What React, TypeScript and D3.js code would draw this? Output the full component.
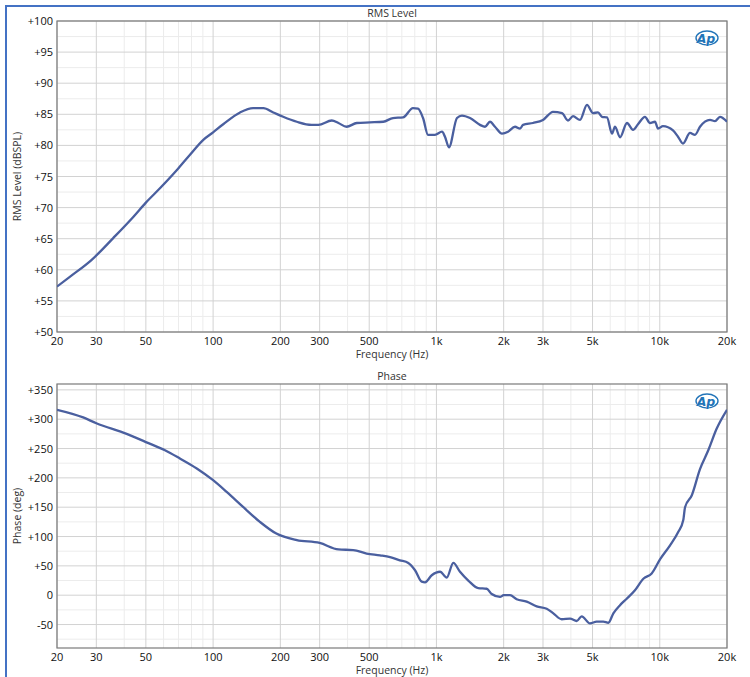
import React from "react";
import * as d3 from "d3";

// RMS level (dBSPL) vs frequency
const levelFreq = [20, 22.9, 28.6, 35.7, 43.9, 50, 57.8, 68.7, 78.8, 90.4, 100, 111, 132, 151, 168, 186, 206, 237, 276, 296, 340, 364, 396, 440, 504, 578, 639, 709, 785, 827, 871, 917, 985, 1059, 1092, 1138, 1236, 1301, 1414, 1567, 1650, 1737, 1829, 1966, 2092, 2248, 2368, 2442, 2706, 3000, 3326, 3650, 3882, 4088, 4394, 4722, 5024, 5290, 5512, 5804, 6112, 6304, 6638, 7132, 7590, 7990, 8586, 9040, 9520, 9820, 10338, 11462, 12068, 12706, 13658, 14378, 15140, 16786, 17674, 18604, 20000];
const levelDb = [57.3, 58.9, 61.6, 65.1, 68.5, 70.8, 73.1, 76.0, 78.5, 80.9, 82.1, 83.4, 85.3, 86.0, 86.0, 85.3, 84.6, 83.8, 83.3, 83.3, 84.0, 83.6, 83.0, 83.6, 83.7, 83.8, 84.4, 84.5, 86.0, 85.9, 84.4, 81.7, 81.7, 82.2, 81.4, 79.7, 84.4, 84.8, 84.4, 83.3, 83.0, 83.8, 83.0, 81.9, 82.2, 83.0, 82.7, 83.3, 83.6, 84.1, 85.4, 85.2, 84.0, 84.7, 84.1, 86.5, 85.2, 85.3, 84.6, 84.5, 81.9, 83.0, 81.3, 83.6, 82.5, 83.4, 84.6, 83.6, 83.8, 82.7, 83.1, 82.4, 81.4, 80.3, 82.0, 81.7, 83.0, 84.1, 83.9, 84.6, 83.8];

// Phase (deg) vs frequency
const phaseFreq = [20, 26.2, 30, 41, 50, 60.9, 71, 84.5, 100, 115, 136.6, 162, 192, 237, 300, 364, 424, 487, 559, 620, 686, 748, 802, 859, 889, 953, 1038, 1112, 1190, 1275, 1389, 1539, 1679, 1768, 1926, 2000, 2135, 2287, 2535, 2812, 3117, 3338, 3639, 3964, 4247, 4470, 4870, 5218, 5585, 5884, 6196, 6638, 7113, 7744, 8442, 9201, 10025, 11118, 12110, 12744, 12977, 13900, 15140, 16490, 17990, 20000];
const phaseDeg = [316, 303, 293, 275, 261, 247, 233, 216, 196, 176, 150, 125, 105, 94, 89, 78, 77, 71, 68, 65, 59.5, 55, 42.5, 23, 22, 34, 40, 30, 55, 40, 25, 12, 11, 2, -3, 0, 0, -7, -11, -19, -23, -31, -41, -40, -44, -36, -48, -45, -45, -47, -31, -17, -6, 8.5, 28, 37, 61, 85, 108, 128, 150, 170, 215, 247, 284, 316];

const freqTicks = [20, 30, 50, 100, 200, 300, 500, 1000, 2000, 3000, 5000, 10000, 20000];
const freqLabels = ["20", "30", "50", "100", "200", "300", "500", "1k", "2k", "3k", "5k", "10k", "20k"];
const levelTicks = [50, 55, 60, 65, 70, 75, 80, 85, 90, 95, 100];
const phaseTicks = [-50, 0, 50, 100, 150, 200, 250, 300, 350];

const W = 750;
const H = 677;
const left = 57;
const right = 727;
const font = "'Open Sans', 'Noto Sans', sans-serif";
const lineColor = "#4a5f9f";

const x = d3.scaleLog().domain([20, 20000]).range([left, right]);

// every 1..9 multiple inside the range that is not a labelled tick
const minorFreqs: number[] = [];
for (let dec = 10; dec <= 10000; dec *= 10) {
  for (let m = 1; m <= 9; m++) {
    const f = dec * m;
    if (f > 20 && f < 20000 && !freqTicks.includes(f)) minorFreqs.push(f);
  }
}

function ApLogo({ cx, cy }: { cx: number; cy: number }) {
  return (
    <g>
      <ellipse cx={cx + 1} cy={cy} rx={11} ry={7} fill="none" stroke="#2274b8" strokeWidth={1.4} />
      <text x={cx} y={cy + 4.5} textAnchor="middle" fontFamily="'DejaVu Sans', sans-serif" fontStyle="italic" fontWeight="bold" fontSize={12.5} fill="#2274b8" stroke="#fff" strokeWidth={0.6} paintOrder="stroke">Ap</text>
    </g>
  );
}

interface PanelProps {
  id: string;
  top: number;
  bottom: number;
  domain: [number, number];
  ticks: number[];
  minorStep: number;
  label: (v: number) => string;
  title: string;
  yTitle: string;
  freq: number[];
  values: number[];
  logoY: number;
}

function Panel(p: PanelProps) {
  const y = d3.scaleLinear().domain(p.domain).range([p.bottom, p.top]);
  const minorY: number[] = [];
  for (let v = Math.ceil(p.domain[0] / p.minorStep) * p.minorStep; v <= p.domain[1]; v += p.minorStep) {
    if (!p.ticks.includes(v)) minorY.push(v);
  }
  const line = d3.line<number>()
    .x((_, i) => x(p.freq[i]))
    .y((d) => y(d))
    .curve(d3.curveMonotoneX);
  const mid = (left + right) / 2;

  return (
    <g>
      <defs>
        <clipPath id={p.id}>
          <rect x={left} y={p.top} width={right - left} height={p.bottom - p.top} />
        </clipPath>
      </defs>
      <text x={mid} y={p.top - 4} textAnchor="middle" fontFamily={font} fontSize={10.5} fill="#333">{p.title}</text>
      {minorFreqs.map((f) => (
        <line key={"mx" + f} x1={x(f)} x2={x(f)} y1={p.top} y2={p.bottom} stroke="#ececec" />
      ))}
      {minorY.map((v) => (
        <line key={"my" + v} x1={left} x2={right} y1={y(v)} y2={y(v)} stroke="#ececec" />
      ))}
      {freqTicks.map((f) => (
        <line key={"gx" + f} x1={x(f)} x2={x(f)} y1={p.top} y2={p.bottom} stroke="#d2d2d2" />
      ))}
      {p.ticks.map((v) => (
        <line key={"gy" + v} x1={left} x2={right} y1={y(v)} y2={y(v)} stroke="#d2d2d2" />
      ))}
      <rect x={left} y={p.top} width={right - left} height={p.bottom - p.top} fill="none" stroke="#7a7a7a" strokeWidth={1.2} />
      <path d={line(p.values) || ""} fill="none" stroke={lineColor} strokeWidth={2.3} strokeLinejoin="round" clipPath={`url(#${p.id})`} />
      {p.ticks.map((v) => (
        <text key={"ty" + v} x={left - 4} y={y(v) + 4} textAnchor="end" fontFamily={font} fontSize={11} fill="#111">{p.label(v)}</text>
      ))}
      {freqTicks.map((f, i) => (
        <text key={"tx" + f} x={x(f)} y={p.bottom + 13} textAnchor="middle" fontFamily={font} fontSize={11} fill="#111">{freqLabels[i]}</text>
      ))}
      <text x={mid} y={p.bottom + 26} textAnchor="middle" fontFamily={font} fontSize={10.5} fill="#333">Frequency (Hz)</text>
      <text transform={`translate(21,${(p.top + p.bottom) / 2}) rotate(-90)`} textAnchor="middle" fontFamily={font} fontSize={10.5} fill="#333">{p.yTitle}</text>
      <ApLogo cx={706} cy={p.logoY} />
    </g>
  );
}

const signed = (v: number) => (v > 0 ? "+" + v : String(v));

export default function App() {
  return (
    <div style={{ position: "absolute", left: 0, top: 0 }}>
      <svg width={W} height={H} style={{ display: "block", background: "#fff" }}>
        <line x1={6} x2={W} y1={6} y2={6} stroke="#4472c4" strokeWidth={2} />
        <line x1={6} x2={6} y1={5} y2={H} stroke="#4472c4" strokeWidth={2} />
        <Panel id="clipLevel" top={21} bottom={332} domain={[50, 100]} ticks={levelTicks} minorStep={2.5}
          label={signed} title="RMS Level" yTitle="RMS Level (dBSPL)" freq={levelFreq} values={levelDb} logoY={38} />
        <Panel id="clipPhase" top={384} bottom={648} domain={[-90, 360]} ticks={phaseTicks} minorStep={25}
          label={signed} title="Phase" yTitle="Phase (deg)" freq={phaseFreq} values={phaseDeg} logoY={401} />
      </svg>
    </div>
  );
}
